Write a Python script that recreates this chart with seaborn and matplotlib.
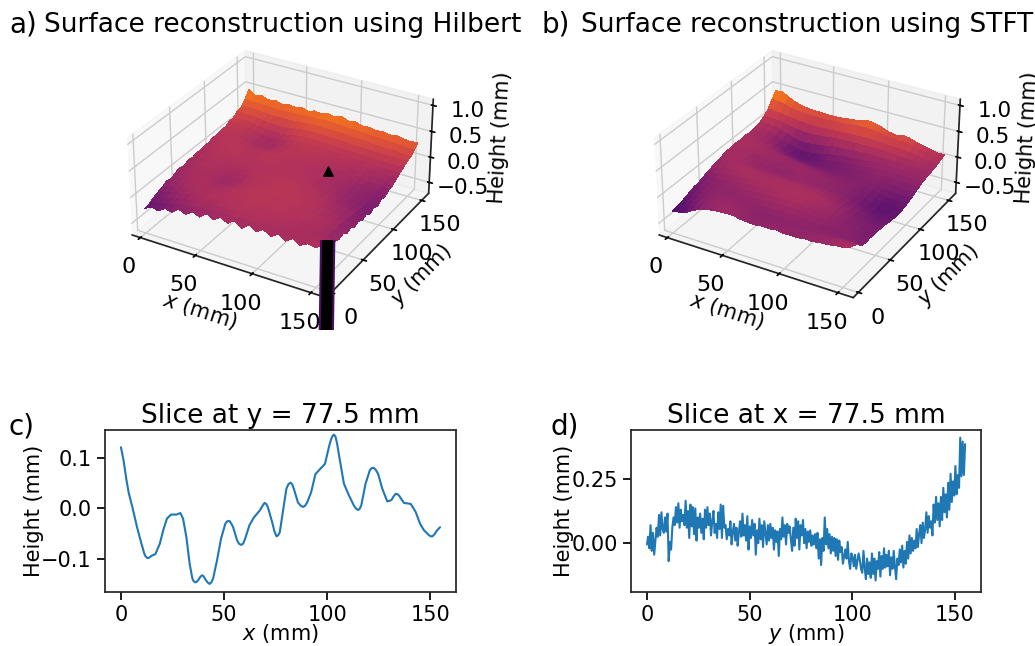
import numpy as np
import seaborn as sns
import matplotlib
matplotlib.use("Agg")
import matplotlib.pyplot as plt

# slice at y = 77.5 mm
slice_x = [0, 1.3, 2.6, 3.7, 5.7, 7.8, 9.7, 11.3, 12, 12.9, 13.8, 14.6, 16.7, 18.8, 20.7, 22.3, 24.3, 26.9, 28.8, 30.1, 31.7, 33.3,
           34.6, 35.3, 36.1, 37, 37.7, 38.5, 39.3, 40.1, 40.9, 42, 43, 43.8, 44.7, 46.6, 48.5, 50.6, 51.6, 52.7, 53.5, 54.4, 56.3, 57.3, 58.4, 59.3, 60.2,
           62.3, 64.4, 67.3, 68.6, 69.6, 70.4, 71.2, 73.3, 74.4, 75.4, 76.2, 77, 78.6, 80.2, 81.2, 82.2, 83, 83.8, 85.8, 87, 88.2, 89.2, 90.3, 92.2, 94.3,
           96.8, 98.9, 100.8, 101.6, 102.4, 103.2, 104, 104.8, 105.6, 108.1, 110.5, 112.9, 113.9, 114.9, 115.7, 116.5, 118.6, 120.7, 121.7, 122.6, 123.6, 124.7,
           126.7, 129.1, 130.2, 131.2, 132.2, 133.2, 134.2, 135.1, 136, 137.2, 140.5, 142.9, 145, 146.9, 149.4, 150.2, 151, 152, 152.9, 154.7]
slice_x_height = [.121, .094, .058, .032, 0, -.037, -.066, -.089, -.095, -.098, -.097, -.094, -.09, -.07, -.04, -.02, -.012, -.012, -.009, -.02, -.056, -.109,
                  -.138, -.144, -.146, -.144, -.14, -.135, -.132, -.134, -.14, -.146, -.149, -.146, -.138, -.102, -.06, -.03, -.025, -.025, -.03, -.037, -.063, -.07, -.072, -.069, -.06,
                  -.033, -.018, -.004, .005, .011, .009, .003, -.027, -.045, -.055, -.053, -.047, -.004, .039, .048, .051, .048, .039, .012, .006, .003, .005, .012, .032, .068,
                  .079, .088, .121, .133, .142, .146, .142, .128, .108, .049, .026, .006, 0, -.003, -.001, .006, .049, .076, .08, .08, .076, .068,
                  .039, .014, .015, .017, .024, .029, .028, .024, .018, .011, .009, -.007, -.03, -.043, -.053, -.055, -.055, -.051, -.045, -.037]

# slice at x = 77.5 mm, in micrometres
slice_y_um = [-5, 25, -20, 70, -30, 40, -45, 10, 60, 25, 110, 30, 120, 55, 40, 100, 45, 115, -70, 5, -25, 60, 100, 70, 140, 80, 155, 60, 130, 85,
              110, 70, 165, 60, 125, 20, 150, 65, 140, 35, 135, 10, 100, 60, 115, 40, 95, 15, 130, 60, 140, 70, 115, 30, 85, 125, 40, 75, 20, 120,
              55, 150, 20, 145, 60, 70, 15, 55, 30, 85, -5, 45, 75, 10, 60, -10, 40, 85, 25, 115, 30, 70, 10, 105, -25, 65, 20, 90, 30, 75,
              -45, 50, 0, 95, 15, 70, -15, 85, 40, -5, 70, 10, 75, 20, 60, -25, 50, 5, 45, -50, 55, 15, 100, 25, 70, -5, 75, 40, 65, 15,
              -30, 60, -10, 95, 20, 85, -25, 70, 30, 90, 0, 55, -20, 45, 5, 50, -10, 30, -5, 35, -20, 40, -60, 15, -85, 20, -30, 100, -5, 55,
              -20, 35, -40, 25, -30, 20, -50, 15, -65, 10, -35, -15, -80, -50, -25, -60, 5, -70, -100, -40, -55, -90, -45, -100, -70, -40, -65, -100, -115, -30,
              -95, -140, -60, -120, -75, -135, -40, -120, -60, -145, -70, -100, -35, -130, -50, -100, -20, -95, -45, -90, -30, -125, -55, -100, -30, -90, -140, -60, -85, -25,
              -75, -10, -95, -30, -80, 5, -60, 30, -40, 20, -30, 10, -20, 55, -15, 35, 70, 0, 80, 20, 55, 120, 40, 105, 60, 85, 30, 150, 80, 180,
              90, 155, 65, 180, 90, 215, 120, 190, 100, 235, 130, 270, 160, 240, 185, 300, 190, 265, 215, 410, 260, 395, 265, 385]

# surface heights in 1/100 mm, rows run y = 0 to 155, columns x = 0 to 155
hilbert_rows = [
    [-24, -17, -21, -12, -15, -5, -11, -2, -8, 3, -5, 4, -3, 6, -4, 6, -2, 6, -3, 6, -3, 6, -2, 5, 3, 8],
    [-22, -17, -13, -11, -7, -5, -3, -1, 1, 0, 2, 3, 2, 4, 3, 4, 3, 4, 3, 4, 3, 4, 4, 4, 5, 6],
    [-17, -14, -10, -7, -4, -2, 0, 2, 3, 2, 4, 5, 6, 5, 6, 5, 5, 4, 4, 4, 3, 3, 3, 3, 2, 1],
    [-13, -10, -7, -3, -1, 1, 2, 3, 4, 5, 6, 6, 7, 7, 7, 6, 7, 6, 5, 5, 4, 3, 2, 1, -1, -4],
    [-10, -6, -3, -1, 1, 3, 4, 5, 6, 5, 6, 7, 8, 8, 8, 7, 8, 7, 6, 6, 5, 4, 3, 2, 0, -8],
    [-5, -4, -1, 2, 3, 4, 3, 4, 5, 6, 7, 8, 7, 9, 8, 9, 8, 8, 7, 6, 6, 5, 4, 3, -1, -5],
    [-8, -2, 0, 3, 4, 4, 3, 2, 4, 5, 7, 8, 9, 8, 9, 8, 9, 8, 7, 7, 6, 5, 3, 2, 0, -12],
    [-3, -1, 2, 3, 4, 3, 1, 0, 2, 4, 6, 8, 8, 9, 9, 10, 9, 8, 8, 7, 6, 4, 2, 1, -2, -7],
    [0, 0, 2, 4, 3, 2, 0, -2, 0, 3, 6, 7, 8, 8, 10, 9, 8, 9, 8, 7, 5, 3, 1, -1, -3, -14],
    [-3, 2, 3, 5, 4, 3, 1, -1, 1, 3, 6, 8, 7, 9, 9, 10, 9, 8, 7, 6, 4, 2, 0, -2, -4, -10],
    [2, 2, 4, 5, 5, 4, 3, 2, 3, 5, 7, 7, 8, 8, 9, 9, 8, 7, 6, 5, 3, 1, -2, -4, -6, -16],
    [0, 3, 5, 6, 5, 5, 4, 4, 5, 6, 6, 7, 7, 8, 8, 8, 7, 6, 5, 4, 2, -1, -4, -6, -8, -12],
    [3, 4, 5, 6, 6, 5, 5, 5, 6, 5, 6, 7, 6, 7, 7, 7, 6, 5, 3, 2, 0, -2, -5, -7, -9, -18],
    [2, 5, 6, 7, 7, 8, 7, 7, 6, 7, 7, 6, 7, 6, 7, 6, 5, 4, 3, 2, -1, -4, -6, -8, -10, -13],
    [5, 5, 7, 8, 8, 8, 7, 6, 7, 8, 7, 7, 6, 7, 6, 6, 5, 4, 2, 1, -2, -4, -6, -8, -9, -17],
    [4, 6, 8, 9, 9, 8, 7, 7, 8, 8, 8, 7, 7, 6, 6, 5, 5, 4, 3, 1, 0, -3, -5, -7, -8, -11],
    [8, 7, 8, 9, 8, 7, 6, 6, 7, 8, 9, 8, 7, 7, 6, 6, 5, 4, 3, 2, 1, -1, -3, -5, -6, -13],
    [6, 8, 9, 9, 7, 5, 4, 3, 4, 6, 8, 9, 8, 8, 7, 7, 6, 5, 4, 3, 2, 1, -1, -3, -3, -7],
    [10, 9, 10, 8, 6, 3, 1, 1, 3, 6, 8, 9, 9, 9, 8, 8, 7, 6, 5, 5, 4, 3, 2, 0, -1, -5],
    [9, 11, 11, 9, 6, 3, 1, 0, 2, 6, 9, 10, 10, 10, 9, 9, 8, 8, 7, 6, 6, 5, 4, 3, 2, 0],
    [14, 13, 12, 11, 8, 5, 3, 3, 5, 8, 11, 12, 12, 11, 11, 10, 10, 9, 9, 8, 8, 7, 7, 6, 5, 6],
    [14, 16, 15, 13, 11, 9, 8, 8, 9, 12, 14, 15, 15, 14, 14, 13, 13, 12, 12, 11, 11, 10, 10, 9, 9, 10],
    [21, 20, 20, 19, 17, 15, 14, 14, 16, 18, 20, 21, 21, 20, 20, 19, 19, 18, 17, 17, 16, 16, 15, 15, 14, 15],
    [24, 27, 26, 25, 24, 23, 23, 23, 24, 25, 26, 27, 27, 27, 26, 26, 25, 24, 24, 22, 21, 21, 20, 20, 18, 17],
    [33, 31, 32, 31, 31, 30, 30, 31, 31, 32, 33, 33, 34, 33, 33, 32, 31, 31, 30, 28, 28, 27, 26, 25, 24, 24],
    [46, 38, 41, 36, 39, 35, 38, 36, 39, 35, 39, 37, 41, 38, 42, 37, 39, 35, 36, 33, 35, 32, 34, 31, 30, 32],
]

stft_rows = [
    [-30, -27, -24, -16, -10, -6, -3, -2, -1, -1, -4, -5, -6, -4, -5, -3, -5, -5, -5, -3, -4, -1, -1, 2, 3, 6],
    [-29, -25, -20, -13, -8, -5, -3, -2, -2, -3, -5, -7, -7, -7, -6, -6, -6, -6, -6, -5, -4, -3, -1, 0, 2, 3],
    [-26, -22, -17, -11, -7, -4, -3, -3, -3, -5, -7, -8, -8, -8, -7, -7, -7, -6, -6, -6, -5, -5, -4, -3, -3, -3],
    [-24, -19, -14, -9, -6, -4, -4, -4, -5, -6, -7, -8, -8, -7, -7, -7, -8, -8, -8, -9, -9, -9, -10, -10, -11, -12],
    [-20, -16, -11, -8, -6, -6, -6, -6, -6, -6, -6, -5, -5, -4, -4, -5, -5, -5, -6, -7, -8, -8, -9, -10, -11, -14],
    [-17, -14, -10, -8, -7, -7, -7, -6, -5, -4, -3, -2, -1, -1, -1, -1, -2, -3, -4, -5, -7, -8, -9, -11, -12, -13],
    [-16, -12, -9, -7, -6, -5, -4, -3, -2, -1, 0, 1, 2, 2, 2, 1, 0, -1, -2, -4, -6, -8, -10, -12, -13, -15],
    [-13, -10, -7, -5, -4, -2, -1, 0, 1, 1, 2, 3, 4, 4, 4, 3, 2, 1, 0, -3, -6, -9, -11, -13, -14, -14],
    [-9, -7, -4, -2, 0, 1, 2, 2, 3, 3, 3, 4, 4, 4, 4, 4, 3, 1, -1, -4, -7, -10, -13, -14, -15, -16],
    [-7, -4, -1, 1, 2, 3, 4, 3, 3, 3, 3, 3, 3, 3, 2, 2, 1, 0, -3, -6, -9, -12, -15, -17, -18, -16],
    [-4, -1, 1, 2, 3, 3, 2, 1, 1, 1, 1, 1, 1, 1, 0, 0, -1, -3, -5, -8, -11, -14, -17, -19, -20, -19],
    [-3, 0, 1, 1, 0, -1, -2, -3, -3, -3, -3, -3, -3, -3, -3, -4, -5, -6, -8, -11, -14, -17, -20, -22, -22, -20],
    [1, 1, 1, 0, -2, -4, -5, -6, -6, -6, -6, -5, -5, -5, -6, -6, -7, -8, -10, -13, -16, -19, -22, -24, -23, -21],
    [2, 3, 1, -1, -3, -5, -6, -6, -5, -4, -3, -3, -3, -4, -5, -6, -7, -8, -10, -13, -16, -20, -23, -25, -24, -21],
    [2, 2, 1, 0, -1, -2, -3, -3, -3, -3, -2, -3, -4, -5, -6, -7, -8, -9, -10, -12, -15, -18, -21, -23, -23, -19],
    [3, 3, 3, 2, 1, 0, -1, -2, -3, -4, -5, -6, -7, -8, -9, -9, -10, -10, -10, -11, -13, -16, -18, -20, -20, -17],
    [2, 3, 3, 2, 0, -2, -4, -6, -8, -9, -11, -12, -12, -13, -12, -12, -11, -11, -10, -10, -11, -13, -15, -16, -16, -14],
    [4, 3, 2, 0, -3, -7, -11, -13, -15, -16, -16, -16, -15, -15, -14, -13, -12, -11, -10, -9, -9, -10, -11, -12, -12, -10],
    [2, 2, 0, -3, -7, -12, -16, -19, -20, -20, -19, -17, -16, -15, -14, -12, -11, -10, -8, -7, -7, -7, -8, -8, -9, -7],
    [3, 1, -1, -5, -10, -15, -19, -22, -23, -22, -20, -17, -15, -13, -12, -10, -9, -7, -6, -5, -5, -5, -5, -5, -5, -4],
    [4, 3, 0, -4, -9, -14, -18, -20, -20, -18, -15, -12, -10, -8, -7, -6, -5, -3, -2, -2, -2, -2, -2, -2, -3, -2],
    [7, 6, 4, 1, -3, -7, -10, -11, -10, -8, -6, -3, -2, -1, 0, 1, 2, 2, 2, 2, 2, 1, 1, 0, 0, -1],
    [12, 11, 10, 8, 5, 3, 1, 1, 2, 3, 5, 6, 7, 7, 8, 8, 8, 8, 8, 7, 6, 5, 4, 3, 2, 1],
    [20, 19, 17, 15, 14, 12, 11, 10, 11, 11, 12, 13, 14, 14, 15, 15, 15, 14, 13, 12, 12, 10, 8, 6, 4, 2],
    [33, 32, 29, 25, 23, 22, 21, 21, 21, 22, 22, 23, 25, 26, 27, 26, 25, 21, 20, 19, 20, 15, 12, 10, 6, 5],
    [44, 45, 38, 32, 28, 26, 25, 25, 24, 24, 25, 27, 28, 30, 34, 32, 28, 23, 20, 24, 22, 17, 14, 11, 8, 8],
]

# the two defects in the Hilbert surface
pit_x, pit_y, pit_z = [106.0], [97.0], [0.08]
spike_x, spike_y, spike_z = [158.0, 158.0], [2.0, 2.0], [0.2, -6.0]

grid_ticks = [0, 50, 100, 150]
z_ticks = [-0.5, 0.0, 0.5, 1.0]

sns.set_theme(style="ticks", font="DejaVu Sans", rc={"axes.edgecolor": "0.15", "xtick.color": "black", "ytick.color": "black", "text.color": "black", "axes.labelcolor": "black"})
inferno = sns.color_palette("inferno", as_cmap=True)

W, H = 1035, 646
fig = plt.figure(figsize=(W / 100, H / 100), dpi=100)


def box(left, top, right, bottom):
    # pixel box to figure fractions
    return [left / W, 1 - bottom / H, (right - left) / W, (bottom - top) / H]


def draw_surface(rows, rect, title, title_x, letter, letter_x):
    ax = fig.add_axes(rect, projection="3d")
    ax.patch.set_alpha(0)
    ax.computed_zorder = False
    z = np.array(rows) / 100
    x, y = np.meshgrid(np.linspace(0, 155, z.shape[1]), np.linspace(0, 155, z.shape[0]))
    ax.plot_surface(x, y, z, cmap=inferno, vmin=-0.65, vmax=0.85, rstride=1, cstride=1, linewidth=0, antialiased=False, zorder=2)
    ax.set_xlim(-7.75, 162.75)
    ax.set_ylim(-7.75, 162.75)
    ax.set_zlim(-0.72, 1.12)
    ax.set_xticks(grid_ticks)
    ax.set_yticks(grid_ticks)
    ax.set_zticks(z_ticks)
    ax.tick_params(labelsize=16)
    ax.tick_params(axis="z", labelsize=15.5, pad=6)
    for label in ax.zaxis.get_ticklabels():
        label.set_ha("center")
    ax.set_xlabel("$x$ (mm)", fontsize=15, labelpad=5)
    ax.set_ylabel("$y$ (mm)", fontsize=15, labelpad=4)
    ax.set_zlabel("Height (mm)", fontsize=15, labelpad=8)
    ax.set_box_aspect((4, 4, 2), zoom=1.01)
    ax.view_init(elev=30, azim=-60)
    fig.text(title_x / W, 1 - 25 / H, title, fontsize=19, va="center", ha="left")
    fig.text(letter_x / W, 1 - 25 / H, letter, fontsize=20, va="center", ha="left")
    return ax


ax_a = draw_surface(hilbert_rows, box(120, 12, 438, 330), "Surface reconstruction using Hilbert", 44, "a)", 9)
ax_a.plot(spike_x, spike_y, spike_z, color="#4a1060", linewidth=11, solid_capstyle="butt", zorder=3)
ax_a.plot(spike_x, spike_y, spike_z, color="black", linewidth=8, solid_capstyle="butt", zorder=4)
ax_a.scatter(pit_x, pit_y, pit_z, color="black", marker="^", s=45, depthshade=False, zorder=5)
draw_surface(stft_rows, box(647, 12, 965, 330), "Surface reconstruction using STFT", 581, "b)", 541)

ax_c = fig.add_axes(box(105, 430, 456, 592))
sns.lineplot(x=slice_x, y=slice_x_height, color="tab:blue", linewidth=1.5, errorbar=None, ax=ax_c)
ax_c.set_ylim(-0.165, 0.155)
ax_c.set_xticks(grid_ticks)
ax_c.set_yticks([-0.1, 0.0, 0.1])
ax_c.set_title("Slice at y = 77.5 mm", fontsize=19, pad=5)
ax_c.set_xlabel("$x$ (mm)", fontsize=15, labelpad=-2)
ax_c.set_ylabel("Height (mm)", fontsize=15, labelpad=-2)
ax_c.tick_params(labelsize=15)
fig.text(8 / W, 1 - 426 / H, "c)", fontsize=20, va="center", ha="left")

slice_y = np.linspace(0, 155, len(slice_y_um))
ax_d = fig.add_axes(box(631, 430, 981, 592))
sns.lineplot(x=slice_y, y=np.array(slice_y_um) / 1000, color="tab:blue", linewidth=1.5, errorbar=None, ax=ax_d)
ax_d.set_ylim(-0.19, 0.44)
ax_d.set_xticks(grid_ticks)
ax_d.set_yticks([0.0, 0.25])
ax_d.set_yticklabels(["0.00", "0.25"])
ax_d.set_title("Slice at x = 77.5 mm", fontsize=19, pad=5)
ax_d.set_xlabel("$y$ (mm)", fontsize=15, labelpad=-2)
ax_d.set_ylabel("Height (mm)", fontsize=15, labelpad=-2)
ax_d.tick_params(labelsize=15)
fig.text(551 / W, 1 - 426 / H, "d)", fontsize=20, va="center", ha="left")

fig.savefig("out.png", dpi=100)
plt.close(fig)
